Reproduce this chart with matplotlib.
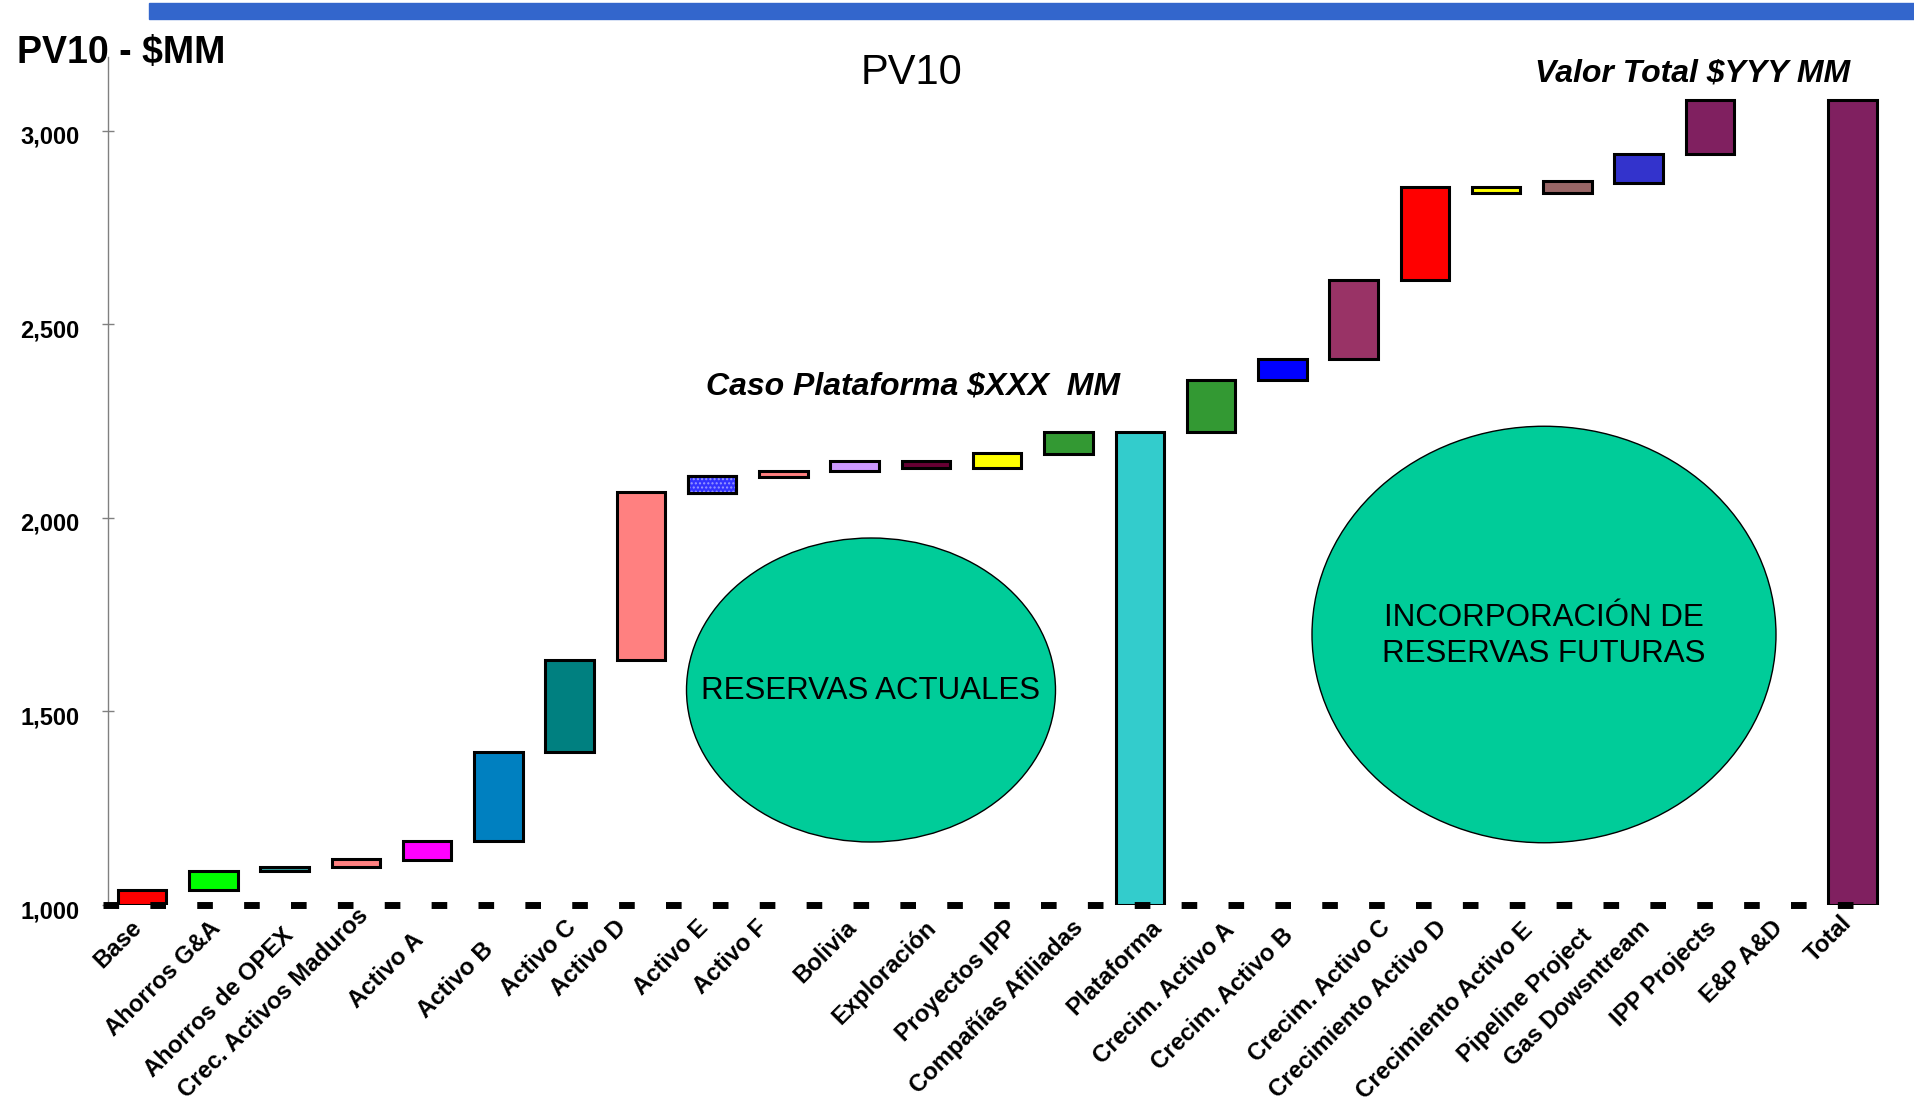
import matplotlib.pyplot as plt
import numpy as np
from matplotlib.patches import Ellipse, Rectangle
from matplotlib.transforms import ScaledTranslation

plt.rcParams['font.family'] = ['Liberation Sans', 'DejaVu Sans']

# categorias del grafico de cascada
categorias = ['Base', 'Ahorros G&A', 'Ahorros de OPEX', 'Crec. Activos Maduros',
              'Activo A', 'Activo B', 'Activo C', 'Activo D', 'Activo E', 'Activo F',
              'Bolivia', 'Exploración', 'Proyectos IPP', 'Compañías Afiliadas',
              'Plataforma', 'Crecim. Activo A', 'Crecim. Activo B', 'Crecim. Activo C',
              'Crecimiento Activo D', 'Crecimiento Activo E', 'Pipeline Project',
              'Gas Dowsntream', 'IPP Projects', 'E&P A&D', 'Total']

# inicio y fin de cada barra ($MM)
inicio = [1000, 1040, 1088, 1098, 1117, 1165, 1394, 1632, 2064, 2105,
          2120, 2130, 2130, 2165, 1000, 2222, 2356, 2410, 2615, 2838,
          2838, 2866, 2939, 3079, 1000]
fin = [1040, 1088, 1098, 1120, 1165, 1394, 1632, 2066, 2107, 2120,
       2148, 2148, 2168, 2222, 2222, 2356, 2410, 2615, 2855, 2855,
       2870, 2939, 3079, 3079, 3079]

colores = ['#FF0000', '#00FF00', '#33A0A0', '#FF8080', '#FF00FF', '#0080C0',
           '#008080', '#FF8080', '#3333FF', '#FF8080', '#CC99FF', '#660033',
           '#FFFF00', '#339933', '#33CCCC', '#339933', '#0000FF', '#993366',
           '#FF0000', '#FFFF00', '#996666', '#3333CC', '#802060', '#FFFFFF',
           '#802060']

# ajuste manual de la posicion de cada etiqueta (pixeles)
desplaz_x = [-12, -4, -3, 1, -15, -17, -5, -26, -16, -28, -10, -1, 8, 3,
             10, 12, -1, 25, 10, 25, 13, 0, -5, -10, -12]
desplaz_y = [0, 0, 8, -12, 12, 22, 0, 0, 0, 0, 0, 0, 0, 0,
             0, 2, 8, 0, 0, 2, 8, 0, 0, 0, -5]

inicio = np.array(inicio)
fin = np.array(fin)
x = np.arange(len(categorias))
alto = fin - inicio
visible = alto > 0

fig = plt.figure(figsize=(19.15, 11.03), dpi=100)
ax = fig.add_axes([0.0562, 0.1795, 0.926, 0.769])

# barras
ax.bar(x[visible], alto[visible], bottom=inicio[visible], width=0.68,
       color=[c for c, v in zip(colores, visible) if v],
       edgecolor='black', linewidth=2.2, zorder=2)

# Activo E con trama de puntos
i_e = categorias.index('Activo E')
ax.bar(x[i_e], alto[i_e], bottom=inicio[i_e], width=0.68, color='#3333FF',
       edgecolor='#9999FF', hatch='....', linewidth=0, zorder=2.5)
ax.bar(x[i_e], alto[i_e], bottom=inicio[i_e], width=0.68, fill=False,
       edgecolor='black', linewidth=2.2, zorder=2.6)

# linea punteada en la base
ax.plot([-0.55, 24.35], [1000, 1000], color='black', lw=5,
        linestyle=(0, (2.25, 4.5)), zorder=4, clip_on=False)

ax.set_xlim(-0.483, 24.4)
ax.set_ylim(1000, 3191)

ax.spines['top'].set_visible(False)
ax.spines['right'].set_visible(False)
ax.spines['bottom'].set_visible(False)
ax.spines['left'].set_color('#808080')
ax.spines['left'].set_linewidth(1)

ax.set_yticks([1000, 1500, 2000, 2500, 3000])
ax.set_yticklabels(['1,000', '1,500', '2,000', '2,500', '3,000'],
                   fontsize=17, fontweight='bold')
ax.tick_params(axis='y', direction='inout', length=8, width=1, color='#808080', pad=16)
for lab in ax.get_yticklabels():
    lab.set_transform(lab.get_transform() + ScaledTranslation(0, -0.04, fig.dpi_scale_trans))

ax.set_xticks(x)
ax.set_xticklabels(categorias, rotation=45, ha='right', va='top',
                   rotation_mode='anchor', fontsize=17.2, fontweight='bold')
ax.tick_params(axis='x', length=0, pad=8)
for lab, dx, dy in zip(ax.get_xticklabels(), desplaz_x, desplaz_y):
    lab.set_transform(lab.get_transform() +
                      ScaledTranslation(dx / 100, -dy / 100, fig.dpi_scale_trans))

# franja azul superior
fig.add_artist(Rectangle((149 / 1915, 1 - 18.5 / 1103), 1 - 149 / 1915, 15 / 1103,
                         transform=fig.transFigure, color='#3366CC'))

# textos
fig.text(17 / 1915, 1 - 63 / 1103, 'PV10 - $MM', fontsize=27, fontweight='bold',
         va='baseline')
fig.text(912 / 1915, 1 - 84 / 1103, 'PV10', fontsize=30, ha='center', va='baseline')
fig.text(1693 / 1915, 1 - 82 / 1103, 'Valor Total $YYY MM', fontsize=23,
         fontweight='bold', fontstyle='italic', ha='center', va='baseline')
fig.text(913 / 1915, 1 - 394 / 1103, 'Caso Plataforma $XXX  MM', fontsize=23,
         fontweight='bold', fontstyle='italic', ha='center', va='baseline')

# elipses
e1 = Ellipse((871 / 1915, 1 - 690 / 1103), 369 / 1915, 304 / 1103,
             transform=fig.transFigure, facecolor='#00CC99', edgecolor='black', lw=1)
e2 = Ellipse((1544 / 1915, 1 - 634.5 / 1103), 464 / 1915, 416.5 / 1103,
             transform=fig.transFigure, facecolor='#00CC99', edgecolor='black', lw=1)
fig.add_artist(e1)
fig.add_artist(e2)
fig.text(871 / 1915, 1 - 691 / 1103, 'RESERVAS ACTUALES', fontsize=22.5,
         ha='center', va='center')
fig.text(1544 / 1915, 1 - 636 / 1103, 'INCORPORACIÓN DE\nRESERVAS FUTURAS',
         fontsize=22.5, ha='center', va='center', linespacing=1.25)

fig.savefig('out.png', dpi=100)
